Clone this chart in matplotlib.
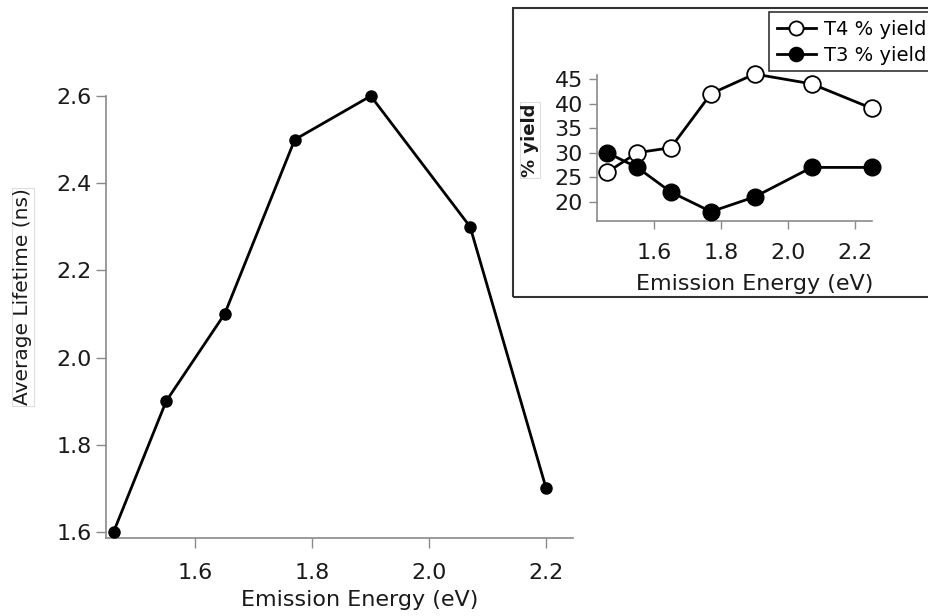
import matplotlib
matplotlib.use("Agg")
import matplotlib.pyplot as plt
from matplotlib.patches import Rectangle

plt.rcParams['font.family'] = ['DejaVu Sans']

# Main plot data
energy_main = [1.46, 1.55, 1.65, 1.77, 1.90, 2.07, 2.20]
lifetime = [1.6, 1.9, 2.1, 2.5, 2.6, 2.3, 1.7]
main_xticks = [1.6, 1.8, 2.0, 2.2]
main_yticks = [1.6, 1.8, 2.0, 2.2, 2.4, 2.6]

# Inset data
energy_inset = [1.46, 1.55, 1.65, 1.77, 1.90, 2.07, 2.25]
t4_yield = [26, 30, 31, 42, 46, 44, 39]
t3_yield = [30, 27, 22, 18, 21, 27, 27]
inset_xticks = [1.6, 1.8, 2.0, 2.2]
inset_yticks = [20, 25, 30, 35, 40, 45]

W, H = 929, 616
fig = plt.figure(figsize=(W/100, H/100), dpi=100)

def fr(x0, y0, x1, y1):
    return [x0/W, 1 - y1/H, (x1-x0)/W, (y1-y0)/H]

spine_col = '#8a8a8a'
txt_col = '#1a1a1a'

def style(ax):
    for s in ['top', 'right']:
        ax.spines[s].set_visible(False)
    for s in ['left', 'bottom']:
        ax.spines[s].set_color(spine_col)
        ax.spines[s].set_linewidth(1.2)
    ax.tick_params(direction='out', length=7, width=1.0, color=spine_col,
                   labelcolor=txt_col, labelsize=16, pad=3.5)

# Main axes
ax = fig.add_axes(fr(106, 96, 573, 538))
ax.plot(energy_main, lifetime, color='black', lw=2, marker='o', ms=8,
        mfc='black', mec='black', clip_on=False, zorder=3)
ax.set_xlim(1.447, 2.246)
ax.set_ylim(1.586, 2.6)
ax.set_xticks(main_xticks)
ax.set_xticklabels([f"{v:.1f}" for v in main_xticks])
ax.set_yticks(main_yticks)
ax.set_yticklabels([f"{v:.1f}" for v in main_yticks])
style(ax)
ax.tick_params(axis='x', pad=11)
ax.set_xlabel('Emission Energy (eV)', fontsize=16, color=txt_col, va='center')
ax.xaxis.set_label_coords(0.544, (538-600)/442)
ax.set_ylabel('Average Lifetime (ns)', fontsize=14.5, color=txt_col, va='center',
              bbox=dict(boxstyle='square,pad=0.05', fc='white', ec='#dddddd', lw=0.8))
ax.yaxis.set_label_coords((23-106)/467, (538-297)/442)

# Inset frame
fig.patches.append(Rectangle((513/W, 1-297/H), (940-513)/W, (297-8)/H,
                             transform=fig.transFigure, fill=False,
                             ec='#333333', lw=1.5, zorder=0))

# Inset axes
ax2 = fig.add_axes(fr(597, 75, 872, 221))
ax2.plot(energy_inset, t4_yield, color='black', lw=2, marker='o', ms=12,
         mfc='white', mec='black', mew=1.3, clip_on=False, zorder=3,
         label='T4 % yield')
ax2.plot(energy_inset, t3_yield, color='black', lw=2, marker='o', ms=12,
         mfc='black', mec='black', clip_on=False, zorder=3,
         label='T3 % yield')
ax2.set_xlim(1.43, 2.25)
ax2.set_ylim(16.1, 45.8)
ax2.set_xticks(inset_xticks)
ax2.set_xticklabels([f"{v:.1f}" for v in inset_xticks])
ax2.set_yticks(inset_yticks)
style(ax2)
ax2.patch.set_alpha(0)
ax2.tick_params(axis='y', length=6, pad=4)
ax2.tick_params(axis='x', length=6, pad=10)
ax2.set_xlabel('Emission Energy (eV)', fontsize=16, color=txt_col, va='center')
ax2.xaxis.set_label_coords((755-597)/275, (221-284)/146)
ax2.set_ylabel('% yield', fontsize=13, color=txt_col, fontweight='bold', va='center',
               bbox=dict(boxstyle='square,pad=0.05', fc='white', ec='#dddddd', lw=0.8))
ax2.yaxis.set_label_coords((530-597)/275, (221-140)/146)

# Legend box (runs off the right edge as in the reference)
fig.patches.append(Rectangle((769/W, 1-71/H), (940-769)/W, (71-12)/H,
                             transform=fig.transFigure, fc='white',
                             ec='#333333', lw=1.2, zorder=5))
leg = fig.legend(handles=ax2.get_lines(), loc='upper left',
                 bbox_to_anchor=(769/W, 1-12/H), fontsize=14, frameon=False,
                 handlelength=2.0, handletextpad=0.45, borderpad=0.4,
                 labelspacing=0.35, borderaxespad=0, markerscale=0.85)
leg.set_zorder(6)

fig.savefig('out.png', dpi=100)
